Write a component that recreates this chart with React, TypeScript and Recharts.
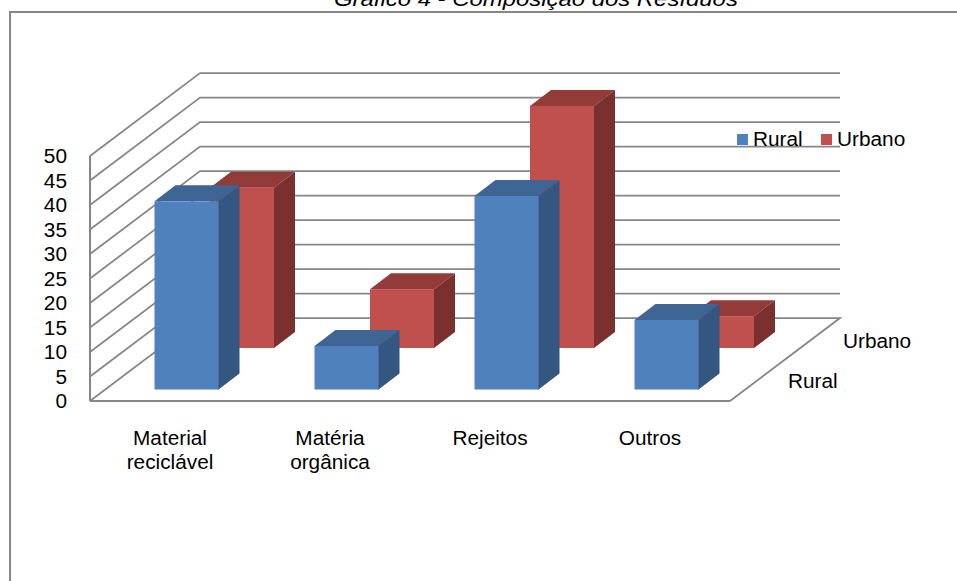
import { Bar, BarChart, CartesianGrid, Legend, XAxis, YAxis } from "recharts"

const categories = ["Material reciclável", "Matéria orgânica", "Rejeitos", "Outros"]
const ruralValues = [38.4, 8.9, 39.5, 14.2]
const urbanoValues = [32.7, 12, 49.4, 6.5]
const yTicks = [0, 5, 10, 15, 20, 25, 30, 35, 40, 45, 50]
const depthLabels = ["Urbano", "Rural"]

const tableData = categories.map((name, i) => ({
  name,
  Rural: ruralValues[i],
  Urbano: urbanoValues[i],
}))

const FONT = "'Liberation Sans', Arial, sans-serif"
const GRID = "#868686"
const FONT_SIZE = 20
// labels run slightly wider than the plain font
const STRETCH = 1.04

// depth of the floor, and of each bar
const FLOOR_DX = 110
const FLOOR_DY = -83
const BAR_DX = 21
const BAR_DY = -16
const FLOOR_Y = 401

// each gridline runs up the side wall and then along the back wall;
// the lowest one also closes the floor on the right
function wallLine({ x1, y1, x2 }: any) {
  const by = y1 + FLOOR_DY
  const backRight = x2 + FLOOR_DX
  const close = y1 >= FLOOR_Y ? `L${x2},${y1}` : ""
  return (
    <path
      key={y1}
      d={`M${x1},${y1}L${x1 + FLOOR_DX},${by}L${backRight},${by}${close}`}
      fill="none"
      stroke={GRID}
      strokeWidth={1.75}
    />
  )
}

function bar3d(front: string, side: string, top: string, dx: number, dy: number) {
  return function Bar3d({ x, y, width, height }: any) {
    const l = x + dx
    const r = l + width
    const t = y + dy
    const b = t + height
    return (
      <g>
        <path d={`M${l},${t}L${l + BAR_DX},${t + BAR_DY}L${r + BAR_DX},${t + BAR_DY}L${r},${t}Z`} fill={top} />
        <path d={`M${r - 1},${t}L${r},${t}L${r + BAR_DX},${t + BAR_DY}L${r + BAR_DX},${b + BAR_DY}L${r},${b}L${r - 1},${b}Z`} fill={side} />
        <rect x={l} y={t} width={width} height={height} fill={front} />
      </g>
    )
  }
}

function StretchedText({ x, y, lines, anchor = "middle" }: any) {
  return (
    <text
      transform={`translate(${x},${y}) scale(${STRETCH},1)`}
      textAnchor={anchor}
      fontFamily={FONT}
      fontSize={FONT_SIZE}
      fill="#000"
    >
      {lines.map((line: string, i: number) => (
        <tspan key={line} x={0} y={i * 24}>
          {line}
        </tspan>
      ))}
    </text>
  )
}

function CategoryTick({ x, payload }: any) {
  return <StretchedText x={x} y={445} lines={payload.value.split(" ")} />
}

function ValueTick({ y, payload }: any) {
  return <StretchedText x={67} y={y + 7} lines={[String(payload.value)]} anchor="end" />
}

function LegendRow({ payload }: any) {
  return (
    <div style={{ display: "flex", fontFamily: FONT, fontSize: FONT_SIZE, lineHeight: "22px", color: "#000" }}>
      {payload.map((item: any) => (
        <div key={item.value} style={{ display: "flex", alignItems: "center", width: 84 }}>
          <span style={{ width: 11, height: 11, background: item.color, marginRight: 5 }} />
          <span style={{ transform: `scaleX(${STRETCH})`, transformOrigin: "left" }}>{item.value}</span>
        </div>
      ))}
    </div>
  )
}

export default function App() {
  return (
    <div style={{ position: "fixed", left: 0, top: 0, width: 957, height: 581, overflow: "hidden", background: "#fff" }}>
      <div
        style={{
          position: "absolute",
          left: 8.5,
          top: 11,
          width: 1000,
          height: 700,
          borderLeft: `2px solid ${GRID}`,
          borderTop: `2px solid ${GRID}`,
        }}
      />
      <div
        style={{
          position: "absolute",
          left: 334,
          top: -12,
          fontFamily: FONT,
          fontStyle: "italic",
          fontSize: FONT_SIZE,
          lineHeight: "22px",
          whiteSpace: "nowrap",
          transform: "scaleX(1.195)",
          transformOrigin: "left",
        }}
      >
        Gráfico 4 - Composição dos Resíduos
      </div>
      <BarChart
        width={957}
        height={581}
        data={tableData}
        margin={{ top: 156, right: 227, bottom: 0, left: 0 }}
        style={{ position: "absolute", left: 0, top: 0 }}
      >
        <CartesianGrid horizontal={wallLine} vertical={false} />
        <XAxis xAxisId="urbano" dataKey="name" hide />
        <XAxis
          xAxisId="rural"
          dataKey="name"
          axisLine={{ stroke: GRID, strokeWidth: 2 }}
          tickLine={false}
          interval={0}
          tick={<CategoryTick />}
          height={180}
        />
        <YAxis
          domain={[0, 50]}
          ticks={yTicks}
          width={90}
          interval={0}
          axisLine={{ stroke: GRID, strokeWidth: 2 }}
          tickLine={false}
          tick={<ValueTick />}
        />
        <Legend
          content={<LegendRow />}
          layout="horizontal"
          align="center"
          verticalAlign="middle"
          wrapperStyle={{ position: "absolute", left: 737, top: 128, width: 200, bottom: "auto" }}
        />
        <Bar
          xAxisId="urbano"
          dataKey="Urbano"
          barSize={64}
          fill="#C0504D"
          isAnimationActive={false}
          shape={bar3d("#C0504D", "#7A302E", "#933B39", 72, -53)}
        />
        <Bar
          xAxisId="rural"
          dataKey="Rural"
          barSize={64}
          fill="#4F81BD"
          isAnimationActive={false}
          shape={bar3d("#4F81BD", "#335780", "#3E6594", 16.5, -11.5)}
        />
        <StretchedText x={843} y={348} lines={[depthLabels[0]]} anchor="start" />
        <StretchedText x={788} y={388} lines={[depthLabels[1]]} anchor="start" />
      </BarChart>
    </div>
  )
}
